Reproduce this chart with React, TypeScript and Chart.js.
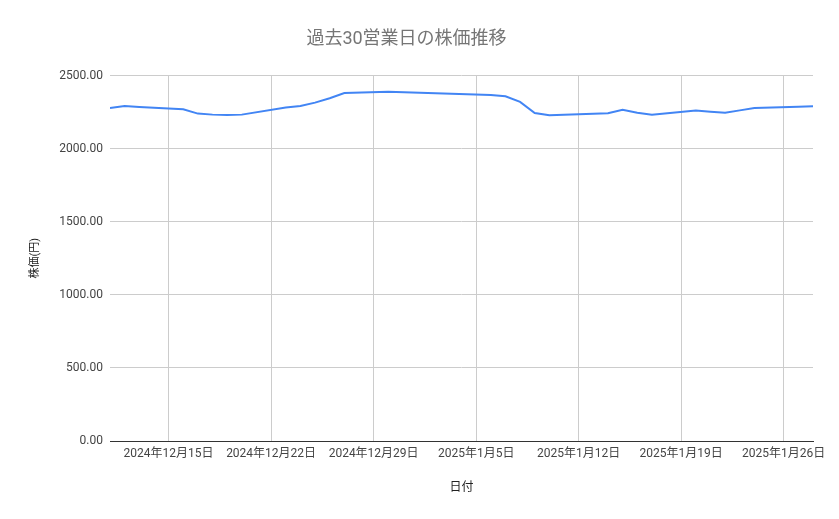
import React, { useEffect, useRef } from "react";
import { Chart, registerables } from "chart.js";

Chart.register(...registerables);

const dates = [
  "2024-12-11", "2024-12-12", "2024-12-13", "2024-12-16", "2024-12-17",
  "2024-12-18", "2024-12-19", "2024-12-20", "2024-12-23", "2024-12-24",
  "2024-12-25", "2024-12-26", "2024-12-27", "2024-12-30", "2025-01-06",
  "2025-01-07", "2025-01-08", "2025-01-09", "2025-01-10", "2025-01-14",
  "2025-01-15", "2025-01-16", "2025-01-17", "2025-01-20", "2025-01-21",
  "2025-01-22", "2025-01-23", "2025-01-24", "2025-01-27", "2025-01-28",
];
const prices = [
  2279, 2292, 2285, 2269, 2240,
  2233, 2230, 2233, 2281, 2292,
  2315, 2345, 2381, 2390, 2368,
  2358, 2320, 2244, 2228, 2242,
  2267, 2246, 2233, 2262, 2253,
  2246, 2262, 2279, 2287, 2290,
];
const tickDates = [
  "2024-12-15", "2024-12-22", "2024-12-29", "2025-01-05",
  "2025-01-12", "2025-01-19", "2025-01-26",
];
const tickLabels = [
  "2024年12月15日", "2024年12月22日", "2024年12月29日", "2025年1月5日",
  "2025年1月12日", "2025年1月19日", "2025年1月26日",
];
const yTicks = [0, 500, 1000, 1500, 2000, 2500];

const dayNum = (s: string) => {
  const [y, m, d] = s.split("-").map(Number);
  return Date.UTC(y, m - 1, d) / 86400000;
};

const FONT = "Roboto, 'Noto Sans CJK JP', sans-serif";

export default function App() {
  const ref = useRef<HTMLCanvasElement | null>(null);
  useEffect(() => {
    if (!ref.current) return;
    const tickVals = tickDates.map(dayNum);
    const chart = new Chart(ref.current, {
      type: "line",
      data: {
        datasets: [
          {
            data: dates.map((d, i) => ({ x: dayNum(d), y: prices[i] })),
            borderColor: "#4285F4",
            backgroundColor: "#4285F4",
            borderWidth: 2,
            pointRadius: 0,
            tension: 0,
          },
        ],
      },
      options: {
        animation: false,
        responsive: true,
        maintainAspectRatio: false,
        layout: { padding: { left: 0, right: 26, top: 0, bottom: 0 } },
        plugins: {
          legend: { display: false },
          tooltip: { enabled: false },
          title: {
            display: true,
            text: "過去30営業日の株価推移",
            color: "#757575",
            font: { family: FONT, size: 18, weight: "normal" },
            padding: { top: 29, bottom: 25 },
          },
        },
        scales: {
          x: {
            type: "linear",
            min: dayNum(dates[0]),
            max: dayNum(dates[dates.length - 1]),
            afterBuildTicks: (scale: any) => {
              scale.ticks = tickVals.map((v) => ({ value: v }));
            },
            afterFit: (scale: any) => {
              scale.height = 78;
            },
            ticks: {
              autoSkip: false,
              maxRotation: 0,
              padding: 6,
              color: "#444",
              font: { family: FONT, size: 12 },
              callback: (v: any) => {
                const i = tickVals.indexOf(Number(v));
                return i >= 0 ? tickLabels[i] : "";
              },
            },
            grid: { color: "#cccccc", drawTicks: false },
            border: { display: true, color: "#333333", width: 1 },
            title: {
              display: true,
              text: "日付",
              color: "#222",
              font: { family: FONT, size: 12 },
              padding: { top: 0, bottom: 24 },
            },
          },
          y: {
            min: 0,
            max: 2500,
            afterBuildTicks: (scale: any) => {
              scale.ticks = yTicks.map((v) => ({ value: v }));
            },
            afterFit: (scale: any) => {
              scale.width = 110;
            },
            ticks: {
              padding: 7,
              color: "#444",
              font: { family: FONT, size: 12 },
              callback: (v: any) => Number(v).toFixed(2),
            },
            grid: { color: "#cccccc", drawTicks: false },
            border: { display: false },
            title: {
              display: true,
              text: "株価(円)",
              color: "#222",
              font: { family: FONT, size: 11 },
              padding: { top: 29, bottom: 0 },
            },
          },
        },
      },
    });
    return () => chart.destroy();
  }, []);
  return (
    <div style={{ position: "absolute", left: 0, top: 0, width: 839, height: 519, background: "#fff" }}>
      <canvas ref={ref} />
    </div>
  );
}
